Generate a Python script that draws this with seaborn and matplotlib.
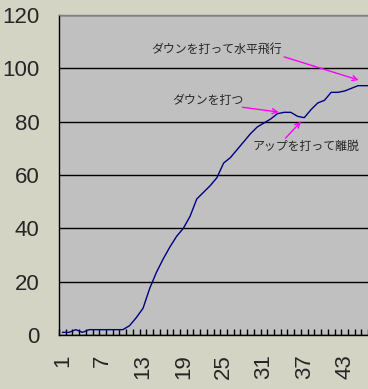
import numpy as np
import pandas as pd
import seaborn as sns
import matplotlib.pyplot as plt

# data
flight_no = list(range(1, 48))
altitude = [1, 1, 2, 1, 2, 2, 2, 2, 2, 2,
            3.5, 6.5, 10, 17.5, 23.5, 28.5, 33, 37, 40, 44.5,
            51, 53.5, 56, 59, 64.5, 66.5, 69.5, 72.5, 75.5, 78,
            79.5, 81, 83, 83.5, 83.5, 82, 81.5, 84.5, 87, 88,
            91, 91, 91.5, 92.5, 93.5, 93.5, 93.5]
x_labels = [1, 7, 13, 19, 25, 31, 37, 43]
y_ticks = [0, 20, 40, 60, 80, 100, 120]

notes = ["ダウンを打って水平飛行", "ダウンを打つ", "アップを打って離脱"]

sns.set_style("white")
plt.rcParams['font.family'] = ['Liberation Sans Narrow', 'Liberation Sans', 'DejaVu Sans']

W, H = 368, 389
fig = plt.figure(figsize=(W / 100, H / 100), dpi=100)
fig.patch.set_facecolor('#d4d4c4')

n = len(flight_no)
cw = 6.72
ax = fig.add_axes([59 / W, 54 / H, n * cw / W, 320 / H])
ax.set_facecolor('#c0c0c0')

df = pd.DataFrame({"no": flight_no, "alt": altitude})
sns.lineplot(data=df, x="no", y="alt", ax=ax, color='#000080', linewidth=1)

ax.set_xlim(0.5, n + 0.5)
ax.set_ylim(0, 120)
ax.set_xlabel("")
ax.set_ylabel("")

ax.set_yticks(y_ticks)
ax.yaxis.grid(True, color='black', linewidth=1)
ax.set_axisbelow(True)
ax.tick_params(axis='y', length=0, pad=14, labelsize=16)

ax.set_xticks(x_labels)
ax.set_xticklabels([str(v) for v in x_labels], rotation=90)
ax.set_xticks(np.arange(0.5, n + 1), minor=True)
ax.tick_params(axis='x', which='major', length=0, pad=14, labelsize=16)
ax.tick_params(axis='x', which='minor', length=4.5, width=1, direction='in',
               color='black', bottom=True)

for s in ['left', 'bottom']:
    ax.spines[s].set_color('black')
    ax.spines[s].set_linewidth(1)
ax.spines['top'].set_color('#808080')
ax.spines['top'].set_linewidth(1)
ax.spines['right'].set_visible(False)

jp = ['Noto Sans CJK JP', 'DejaVu Sans']
arrow = dict(arrowstyle='->', color='#ff00ff', lw=1,
             mutation_scale=9, shrinkA=0, shrinkB=0)

ax.text(14.3, 107.2, notes[0], family=jp, fontsize=8.6, ha='left', va='center')
ax.annotate('', xy=(45.1, 95.6), xytext=(34.0, 104.3), arrowprops=arrow)

ax.text(17.3, 88.1, notes[1], family=jp, fontsize=8.6, ha='left', va='center')
ax.annotate('', xy=(33.2, 83.6), xytext=(27.8, 85.4), arrowprops=arrow)

ax.text(29.3, 70.6, notes[2], family=jp, fontsize=8.6, ha='left', va='center')
ax.annotate('', xy=(36.5, 80), xytext=(34.2, 73.8), arrowprops=arrow)

fig.savefig("out.png", dpi=100, facecolor=fig.get_facecolor())
